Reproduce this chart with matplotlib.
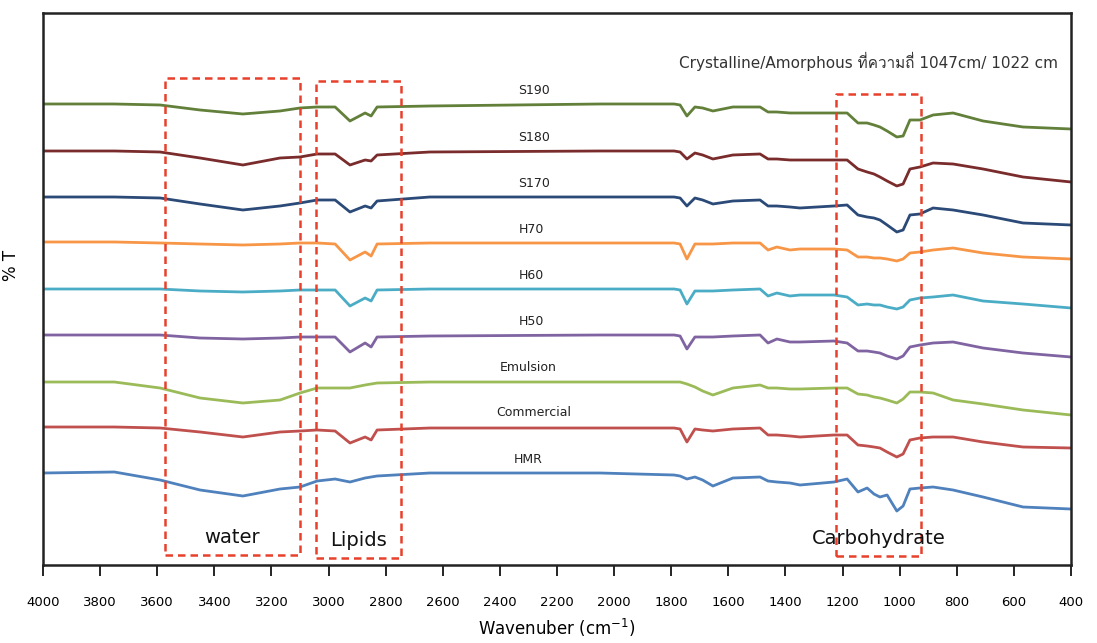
import matplotlib
matplotlib.use("Agg")
import matplotlib.pyplot as plt
from matplotlib import font_manager, ft2font

# wavenumber grid (cm-1) shared by all spectra
wavenumber = [4000, 3750, 3590, 3450, 3300, 3170, 3100, 3040, 2977, 2925, 2872, 2851, 2830,
              2645, 2049, 1790, 1769, 1745, 1717, 1690, 1654, 1584, 1489, 1461, 1430, 1384,
              1349, 1230, 1184, 1146, 1114, 1090, 1069, 1044, 1010, 988, 964, 929, 883, 813,
              708, 568, 400]

# %T (stacked, arbitrary offset)
s190 = [461, 461, 460, 455, 451, 454, 457, 458, 458, 444, 452, 449, 458, 459, 461, 461, 460,
        449, 458, 457, 454, 458, 458, 453, 453, 452, 452, 452, 452, 442, 442, 440, 438, 434,
        428, 429, 445, 445, 450, 452, 444, 438, 436]
s180 = [414, 414, 413, 407, 400, 407, 408, 411, 411, 400, 405, 404, 410, 413, 414, 414, 413,
        406, 412, 410, 406, 410, 411, 406, 406, 405, 405, 405, 405, 396, 393, 391, 388, 384,
        379, 381, 396, 398, 402, 401, 396, 388, 383]
s170 = [368, 368, 367, 361, 355, 359, 362, 365, 365, 353, 359, 357, 364, 368, 368, 368, 367,
        359, 367, 365, 361, 364, 365, 359, 359, 358, 357, 359, 360, 350, 348, 347, 345, 340,
        333, 335, 350, 351, 357, 355, 350, 342, 340]
h70 = [323, 323, 322, 321, 320, 321, 322, 322, 321, 305, 313, 309, 321, 322, 322, 322, 321,
       306, 321, 321, 321, 322, 322, 315, 318, 315, 316, 316, 315, 308, 308, 307, 307, 306,
       304, 306, 312, 313, 315, 317, 312, 308, 306]
h60 = [276, 276, 276, 274, 273, 274, 275, 275, 275, 259, 267, 264, 275, 276, 276, 276, 275,
       261, 274, 274, 274, 275, 276, 269, 272, 269, 270, 270, 268, 260, 261, 260, 260, 258,
       256, 258, 265, 267, 268, 270, 264, 261, 257]
h50 = [230, 230, 230, 227, 226, 227, 228, 228, 228, 213, 222, 218, 228, 229, 230, 230, 229,
       216, 228, 228, 228, 229, 230, 222, 226, 223, 223, 224, 222, 214, 214, 213, 212, 209,
       206, 209, 218, 220, 222, 223, 217, 212, 208]
emulsion = [183, 183, 177, 167, 162, 165, 172, 177, 177, 177, 180, 181, 182, 183, 183, 183, 183,
            181, 178, 174, 170, 177, 180, 177, 177, 176, 176, 177, 177, 171, 170, 168, 167, 165,
            162, 166, 173, 173, 172, 165, 161, 155, 150]
commercial = [138, 138, 137, 133, 128, 133, 134, 135, 134, 122, 128, 125, 135, 137, 137, 137, 136,
              123, 136, 135, 134, 136, 137, 130, 130, 129, 128, 130, 130, 120, 119, 118, 117, 113,
              108, 111, 125, 127, 128, 128, 123, 118, 117]
hmr = [92, 93, 85, 75, 69, 76, 78, 84, 86, 83, 87, 88, 89, 92, 92, 90, 89, 86, 88, 85, 79, 87,
       88, 84, 83, 82, 80, 83, 86, 73, 77, 71, 68, 70, 54, 59, 76, 77, 78, 75, 68, 58, 56]

names = ["S190", "S180", "S170", "H70", "H60", "H50", "Emulsion", "Commercial", "HMR"]
series = [s190, s180, s170, h70, h60, h50, emulsion, commercial, hmr]
colors = ["#62803a", "#7a2b2b", "#2b4a78", "#f79646", "#4bacc6", "#8064a2",
          "#9bbb59", "#c0504d", "#4f81bd"]

# label positions (wavenumber, %T)
label_x = [2280, 2280, 2280, 2290, 2290, 2290, 2300, 2280, 2300]
label_y = [474, 427, 381, 335, 289, 243, 197, 152, 106]

# highlighted regions: (left, right, bottom, top, caption)
regions = [(3573, 3100, 10, 487, "water"),
           (3044, 2746, 7, 484, "Lipids"),
           (1223, 925, 9, 471, "Carbohydrate")]
ticks = list(range(4000, 399, -200))


def font_with(ch):
    for f in font_manager.fontManager.ttflist:
        try:
            if ord(ch) in ft2font.FT2Font(f.fname).get_charmap():
                return f.name
        except Exception:
            pass
    return None


thai = font_with("\u0e17")
fams = ["DejaVu Sans"] + ([thai] if thai else [])

fig = plt.figure(figsize=(10.97, 6.43), dpi=100)
ax = fig.add_axes([0.0392, 0.1213, 0.9371, 0.8585])

for y, c in zip(series, colors):
    ax.plot(wavenumber, y, color=c, lw=2.0, solid_joinstyle="round")

for n, x, y in zip(names, label_x, label_y):
    ax.text(x, y, n, fontsize=9, ha="center", va="center", color="#222222")

for x0, x1, y0, y1, cap in regions:
    ax.plot([x0, x1, x1, x0, x0], [y0, y0, y1, y1, y0], color="#e8402a",
            lw=1.8, ls=(0, (3, 2)))
    ax.text((x0 + x1) / 2, y0 + 18, cap, fontsize=14, ha="center", va="center",
            color="#111111")

ax.text(0.987, 0.913, "Crystalline/Amorphous ที่ความถี่ 1047cm/ 1022 cm",
        transform=ax.transAxes, ha="right", va="center", fontsize=11,
        family=fams, color="#333333")

ax.set_xlim(4000, 400)
ax.set_ylim(0, 552)
ax.set_xticks(ticks)
ax.set_yticks([])
ax.tick_params(axis="x", direction="out", length=8, width=1.2, pad=14, labelsize=9.5)
for s in ax.spines.values():
    s.set_linewidth(1.8)
    s.set_color("#222222")

ax.set_xlabel("Wavenuber (cm$^{-1}$)", fontsize=12, labelpad=6)
ax.set_ylabel("% T", fontsize=12)
ax.yaxis.set_label_coords(-0.022, 0.543)

fig.savefig("out.png", dpi=100)
